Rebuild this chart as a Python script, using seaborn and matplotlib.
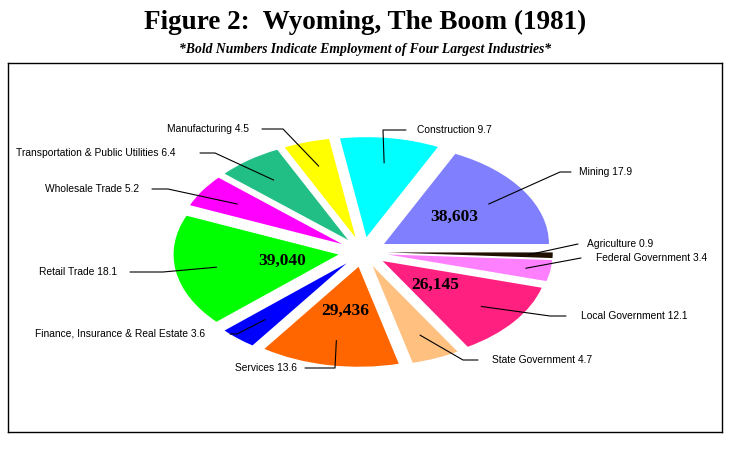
import numpy as np
import matplotlib
matplotlib.use("Agg")
import matplotlib.pyplot as plt
import seaborn as sns

# industries counter-clockwise from 3 o'clock
industries = ["Mining", "Construction", "Manufacturing",
              "Transportation & Public Utilities", "Wholesale Trade",
              "Retail Trade", "Finance, Insurance & Real Estate", "Services",
              "State Government", "Local Government", "Federal Government",
              "Agriculture"]
shares = [17.9, 9.7, 4.5, 6.4, 5.2, 18.1, 3.6, 13.6, 4.7, 12.1, 3.4, 0.9]
employment = {"Mining": "38,603", "Retail Trade": "39,040",
              "Services": "29,436", "Local Government": "26,145"}
colors = ["#8080ff", "#00ffff", "#ffff00", "#21bf85", "#ff00ff", "#00ff00",
          "#0000ff", "#ff6600", "#ffc080", "#ff2080", "#ff80ff", "#201000"]

sns.set_theme(style="white")
plt.rcParams["font.family"] = ["Liberation Sans", "DejaVu Sans"]
plt.rcParams["text.color"] = "black"

W, H = 731, 450
fig = plt.figure(figsize=(W / 100, H / 100), dpi=100)
# frame box
L, T, R, B = 8, 63, 722, 432
ax = fig.add_axes([L / W, 1 - B / H, (R - L) / W, (B - T) / H])

cx, cy, sx, sy = 363, 252, 165, 100  # pie centre (px) and px per unit


def px(x, y):
    return (x - cx) / sx, (cy - y) / sy


explode = [0.15] * len(shares)
wedges, _ = ax.pie(shares, colors=colors, startangle=0, counterclock=True,
                   explode=explode, wedgeprops=dict(linewidth=0))

ax.set_aspect("auto")
ax.set_xlim(px(L, 0)[0], px(R, 0)[0])
ax.set_ylim(px(0, B)[1], px(0, T)[1])
ax.set_frame_on(True)
for s in ax.spines.values():
    s.set_visible(True)
    s.set_color("black")
    s.set_linewidth(1)
ax.set_xticks([])
ax.set_yticks([])

# label layout: text x, text y (px), alignment, line start x, elbow x
layout = {
    "Manufacturing": (249, 129, "right", 262, 283),
    "Transportation & Public Utilities": (175, 153, "right", 200, 215),
    "Wholesale Trade": (139, 189, "right", 152, 168),
    "Retail Trade": (117, 272, "right", 130, 163),
    "Finance, Insurance & Real Estate": (205, 334, "right", 230, 237),
    "Services": (297, 368, "right", 305, 335),
    "Construction": (417, 130, "left", 406, 383),
    "Mining": (579, 172, "left", 571, 560),
    "Agriculture": (587, 244, "left", 578, 578),
    "Federal Government": (596, 258, "left", 581, 581),
    "Local Government": (581, 316, "left", 566, 550),
    "State Government": (492, 360, "left", 478, 463),
}
num_r = {"Mining": 0.5, "Retail Trade": 0.35, "Services": 0.45,
         "Local Government": 0.4}

for w, name, val in zip(wedges, industries, shares):
    mid = np.deg2rad((w.theta1 + w.theta2) / 2)
    ox, oy = w.center
    r = 0.85 if name in ("Agriculture", "Federal Government") else 0.75
    ax_, ay_ = ox + r * np.cos(mid), oy + r * np.sin(mid)
    tx, ty, ha, lx, ex = layout[name]
    x0, y0 = px(tx, ty)
    ax.text(x0, y0, f"{name} {val}", ha=ha, va="center", fontsize=7.4,
            color="black")
    xl, yl = px(lx, ty)
    xe, _ = px(ex, ty)
    ax.plot([xl, xe, ax_], [yl, yl, ay_], color="black", lw=0.8)
    if name in employment:
        nr = num_r[name]
        nx, ny = ox + nr * np.cos(mid), oy + nr * np.sin(mid)
        ax.text(nx, ny, employment[name], ha="center", va="center",
                fontsize=12.5, fontweight="bold", family="Liberation Serif",
                color="black")

fig.text(0.5, 1 - 22 / H, "Figure 2:  Wyoming, The Boom (1981)", ha="center",
         va="center", fontsize=19.5, fontweight="bold",
         family="Liberation Serif", color="black")
fig.text(0.5, 1 - 50 / H,
         "*Bold Numbers Indicate Employment of Four Largest Industries*",
         ha="center", va="center", fontsize=9.8, fontweight="bold",
         style="italic", family="Liberation Serif", color="black")

fig.savefig("out.png", dpi=100)
